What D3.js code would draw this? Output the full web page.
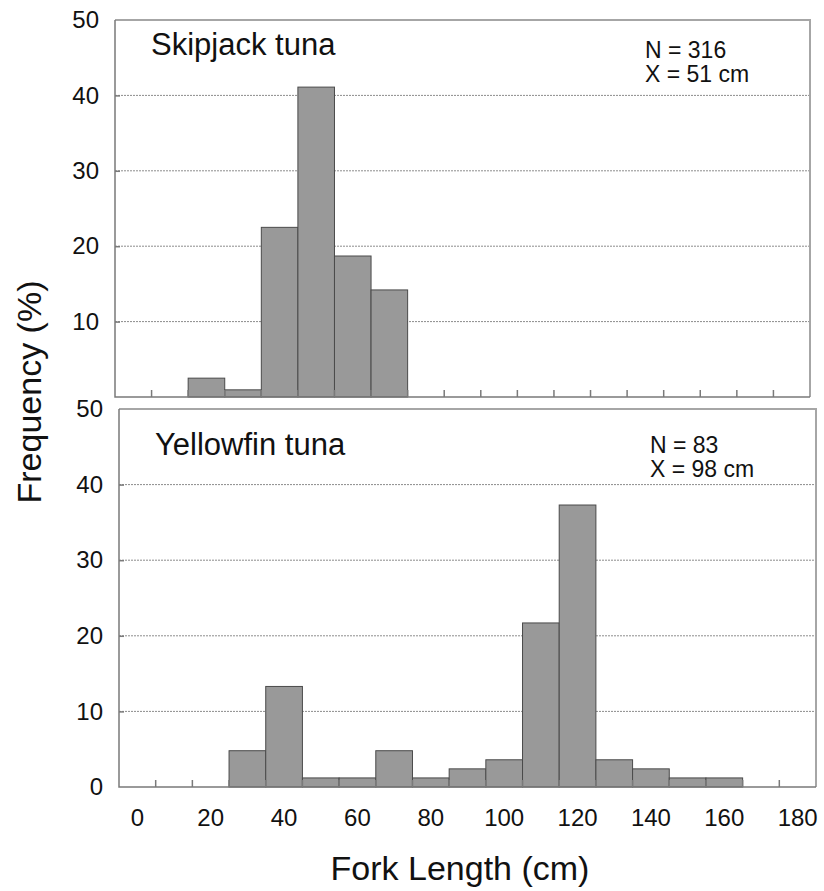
<!DOCTYPE html>
<html>
<head>
<meta charset="utf-8">
<script src="https://cdn.jsdelivr.net/npm/d3@7"></script>
<style>
  body { margin: 0; background: #fff; }
  svg { display: block; font-family: "Liberation Sans", Arial, sans-serif; }
</style>
</head>
<body>
<div id="chart"></div>
<script>
// fork length classes (cm), one bar per 10 cm class
const categories = d3.range(0, 190, 10);
const xTickLabels = [0, 20, 40, 60, 80, 100, 120, 140, 160, 180];
const gridValues = [10, 20, 30, 40];

// frequency (%) per class
const skipjack = [0, 0, 2.5, 0.95, 22.5, 41.1, 18.7, 14.2, 0, 0, 0, 0, 0, 0, 0, 0, 0, 0, 0];
const yellowfin = [0, 0, 0, 4.8, 13.3, 1.2, 1.2, 4.8, 1.2, 2.4, 3.6, 21.7, 37.3, 3.6, 2.4, 1.2, 1.2, 0, 0];

const panels = [
  { title: "Skipjack tuna", values: skipjack, n: "N = 316", mean: "X = 51 cm",
    left: 115, right: 810, top: 20, bottom: 397, yTicks: [10, 20, 30, 40, 50], showX: false,
    titleY: 55, statX: 645, statY: 58 },
  { title: "Yellowfin tuna", values: yellowfin, n: "N = 83", mean: "X = 98 cm",
    left: 119, right: 816, top: 409, bottom: 787, yTicks: [0, 10, 20, 30, 40, 50], showX: true,
    titleY: 455, statX: 650, statY: 453 }
];

const width = 824, height = 891;
const svg = d3.select("#chart").append("svg")
  .attr("width", width)
  .attr("height", height);

panels.forEach(p => {
  const x = d3.scaleBand().domain(categories).range([p.left, p.right]).padding(0);
  const y = d3.scaleLinear().domain([0, 50]).range([p.bottom, p.top]);
  const g = svg.append("g");

  // dotted grid
  g.selectAll(".grid").data(gridValues).enter().append("line")
    .attr("x1", p.left).attr("x2", p.right)
    .attr("y1", d => y(d)).attr("y2", d => y(d))
    .attr("stroke", "#8c8c8c").attr("stroke-width", 1)
    .attr("stroke-dasharray", "2,1");

  // bars
  g.selectAll(".bar").data(categories.map((c, i) => ({ c, v: p.values[i] })).filter(d => d.v > 0))
    .enter().append("rect")
    .attr("x", d => x(d.c))
    .attr("y", d => y(d.v))
    .attr("width", x.bandwidth())
    .attr("height", d => y(0) - y(d.v))
    .attr("fill", "#999999")
    .attr("stroke", "#4a4a4a")
    .attr("stroke-width", 1);

  // frame: top/right light, left/bottom axis darker
  g.append("path")
    .attr("d", `M${p.left},${p.top}H${p.right}V${p.bottom}`)
    .attr("fill", "none").attr("stroke", "#a6a6a6").attr("stroke-width", 2);
  g.append("path")
    .attr("d", `M${p.left},${p.top}V${p.bottom}H${p.right}`)
    .attr("fill", "none").attr("stroke", "#7a7a7a").attr("stroke-width", 1.5);

  // inward ticks at class boundaries
  const bounds = categories.slice(1).map(c => x(c));
  g.selectAll(".xt").data(bounds).enter().append("line")
    .attr("x1", d => d).attr("x2", d => d)
    .attr("y1", p.bottom).attr("y2", p.bottom - 7)
    .attr("stroke", "#7a7a7a").attr("stroke-width", 1.5);

  // y axis labels
  const yAxis = d3.axisLeft(y).tickValues(p.yTicks).tickSize(-5).tickPadding(16);
  const ya = g.append("g").attr("transform", `translate(${p.left},0)`).call(yAxis);
  ya.select(".domain").remove();
  ya.selectAll(".tick line").attr("stroke", "#7a7a7a").attr("stroke-width", 1.5);
  ya.selectAll(".tick text")
    .attr("font-size", 24).attr("fill", "#111")
    .attr("font-family", "Liberation Sans, Arial, sans-serif");
  ya.selectAll(".tick").filter(d => d === 0 || d === 50).select("line").remove();

  if (p.showX) {
    const xAxis = d3.axisBottom(x).tickValues(xTickLabels).tickSize(0).tickPadding(22);
    const xa = g.append("g").attr("transform", `translate(0,${p.bottom})`).call(xAxis);
    xa.select(".domain").remove();
    xa.selectAll(".tick text")
      .attr("font-size", 24).attr("fill", "#111")
      .attr("font-family", "Liberation Sans, Arial, sans-serif");
  }

  // species title and stats
  g.append("text").attr("x", p.left + 36).attr("y", p.titleY)
    .attr("font-size", 31).attr("fill", "#111").text(p.title);
  g.append("text").attr("x", p.statX).attr("y", p.statY)
    .attr("font-size", 23).attr("fill", "#111").text(p.n);
  g.append("text").attr("x", p.statX).attr("y", p.statY + 24)
    .attr("font-size", 23).attr("fill", "#111").text(p.mean);
});

// axis titles
svg.append("text")
  .attr("transform", "translate(41,392) rotate(-90)")
  .attr("text-anchor", "middle")
  .attr("font-size", 34).attr("fill", "#111")
  .text("Frequency (%)");

svg.append("text")
  .attr("x", 460).attr("y", 880)
  .attr("text-anchor", "middle")
  .attr("font-size", 34).attr("fill", "#111")
  .text("Fork Length (cm)");
</script>
</body>
</html>
